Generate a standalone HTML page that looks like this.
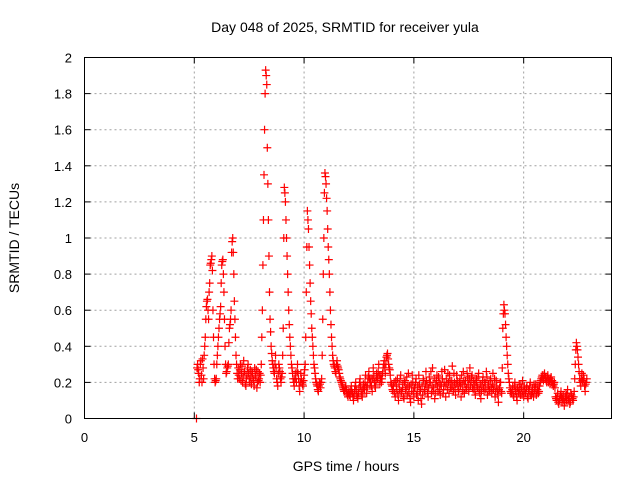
<!DOCTYPE html>
<html><head><meta charset="utf-8"><style>
body{margin:0;background:#fff;}
svg{display:block;font-family:"Liberation Sans",sans-serif;}
</style></head><body>
<svg id="c" width="640" height="480">
<text x="345" y="32" font-size="14" text-anchor="middle">Day 048 of 2025, SRMTID for receiver yula</text>
<text x="346" y="471" font-size="14" text-anchor="middle">GPS time / hours</text>
<text transform="translate(19,238) rotate(-90)" font-size="14" text-anchor="middle">SRMTID / TECUs</text>
<g id="grid"></g><g id="marks"></g>
<rect x="84.5" y="57.5" width="527" height="361" fill="none" stroke="#000" stroke-width="1"/>
</svg>
<script>
const xTicks=[0,5,10,15,20];
const yTicks=[0,0.2,0.4,0.6,0.8,1,1.2,1.4,1.6,1.8,2];
const yTickLabels=["0","0.2","0.4","0.6","0.8","1","1.2","1.4","1.6","1.8","2"];
const startHour=5.10;
const stepHour=0.05;
const srmtid=[0,
.30,.25,.22,.32,.20,.28,.35,.45,
.62,.66,.55,.75,.86,.90,.60,.30,
.20,.22,.35,.45,.55,.62,.85,.88,.70,.40,
.25,.28,.30,.50,.55,.92,1.00,.80,.55,.35,.25,
.28,.22,.30,.25,.20,.32,.26,.18,.24,.30,.22,.27,.19,.25,.21,.28,.23,.17,.26,.22,.20,
.30,.60,1.10,1.60,1.93,1.85,1.30,.90,.55,.40,.32,.28,
.25,.35,.22,.18,.30,.26,.20,.25,
.50,1.28,1.20,1.00,.80,.60,.45,.35,.28,.22,.18,
.25,.20,.30,.22,.15,.25,.20,.18,.24,.30,
.70,1.15,1.05,.85,.65,.50,.40,.30,.25,.20,.18,
.15,.20,.17,.22,.55,1.00,
1.36,1.30,1.15,.95,.80,.60,.45,.35,.30,.28,.25,.32,
.28,.25,.22,.20,.18,.16,.15,.18,.14,.12,
.15,.12,.18,.14,.10,.16,.20,.13,.11,.17,.22,.15,.12,.19,.16,.24,.14,.20,.26,.18,.22,.15,.28,.20,.17,.25,.22,.30,.19,.24,
.22,.28,.32,.25,.34,.36,.30,.27,.20,.18,
.15,.20,.12,.18,.22,.10,.16,.24,.14,.19,.11,.21,.17,.13,.25,.18,.09,.15,.20,.12,
.17,.22,.14,.10,.19,.16,.08,.13,.21,.15,.26,.18,.12,.23,.20,.14,.28,.17,.11,.19,
.24,.15,.20,.13,.18,.22,.16,.27,.12,.19,.25,.14,.21,.17,.29,.15,.20,.13,.24,.18,
.16,.22,.12,.19,.26,.14,.21,.17,.23,.15,.28,.20,.24,.16,.19,.13,.22,.17,.25,.14,
.11,.18,.23,.15,.20,.26,.13,.19,.16,.22,.14,.25,.18,.12,.21,.15,.09,.17,.20,.14,
.50,.63,.58,.45,.35,.25,.20,.15,
.14,.18,.12,.20,.16,.10,.15,.19,.13,.17,.21,.12,.16,.14,.18,.11,.15,.20,.13,.17,.12,.16,.19,.14,.18,.15,
.20,.22,.24,.21,.25,.23,.20,.24,.22,.19,.23,.21,.18,.20,
.12,.10,.14,.08,.11,.15,.09,.13,.07,.12,.10,.16,.11,.08,.14,.12,.10,.15,
.30,.42,.38,.30,.22,
.18,.25,.20,.22,.15,.20];
const srmtidB=[.28,
.27,.20,.30,.24,.33,.22,.40,.55,
.65,.60,.70,.85,.88,.82,.45,.22,
.21,.30,.40,.50,.58,.75,.87,.80,.55,.30,
.26,.29,.42,.52,.60,.98,.92,.65,.45,.30,.22,
.24,.27,.21,.29,.23,.26,.19,.22,.28,.25,.20,.23,.26,.22,.18,.24,.27,.20,.21,.25,.24,
.45,.85,1.35,1.80,1.90,1.50,1.10,.70,.48,.36,.30,.26,
.30,.28,.20,.25,.28,.22,.23,.35,
1.00,1.25,1.10,.90,.70,.52,.40,.30,.25,.20,.22,
.22,.26,.25,.18,.20,.22,.19,.21,.27,.45,
.95,1.10,.95,.75,.58,.45,.35,.28,.22,.19,.16,
.18,.19,.20,.35,.80,1.25,
1.34,1.22,1.05,.88,.70,.52,.40,.32,.29,.26,.30,.29,
.27,.23,.21,.19,.17,.15,.17,.16,.13,.14,
.13,.16,.15,.12,.13,.18,.16,.12,.14,.20,.18,.13,.16,.17,.20,.18,.17,.23,.22,.20,.18,.22,.24,.18,.21,.23,.26,.24,.22,.20,
.25,.30,.28,.30,.35,.33,.28,.24,.19,.16,
.18,.14,.21,.16,.13,.19,.22,.15,.17,.12,.20,.16,.23,.18,.14,.11,.19,.24,.15,.17,
.20,.13,.18,.24,.15,.11,.18,.22,.16,.19,.21,.14,.17,.20,.26,.18,.15,.22,.14,.21,
.18,.23,.16,.19,.26,.14,.20,.18,.22,.16,.20,.24,.17,.21,.18,.25,.16,.19,.21,.15,
.20,.18,.24,.15,.21,.19,.16,.25,.19,.22,.18,.23,.17,.21,.15,.20,.18,.23,.16,.19,
.15,.21,.17,.20,.16,.23,.18,.15,.21,.17,.19,.16,.22,.15,.18,.13,.16,.20,.15,.28,
.58,.60,.52,.40,.30,.22,.17,.14,
.16,.13,.18,.15,.12,.17,.14,.16,.19,.13,.15,.18,.14,.17,.12,.16,.18,.13,.15,.14,.19,.17,.13,.16,.14,.18,
.21,.23,.22,.24,.22,.21,.23,.20,.21,.22,.20,.19,.19,.17,
.11,.12,.09,.10,.13,.12,.11,.10,.09,.14,.13,.10,.12,.09,.13,.11,.12,.22,
.38,.40,.34,.26,.20,
.22,.21,.24,.18,.19,.22];
const NS="http://www.w3.org/2000/svg";
const X0=84.5,X1=611.5,Y0=418.5,Y1=57.5,XMAX=24,YMAX=2;
function xs(h){return X0+(X1-X0)*h/XMAX;}
function ys(v){return Y0-(Y0-Y1)*v/YMAX;}
const grid=document.getElementById('grid'),marks=document.getElementById('marks');
function mk(tag,attrs,parent){const e=document.createElementNS(NS,tag);for(const k in attrs)e.setAttribute(k,attrs[k]);parent.appendChild(e);return e;}
yTicks.forEach((v,i)=>{
  const y=ys(v);
  if(i>0&&i<yTicks.length-1){
    const g=mk('line',{x1:X0,x2:X1,y1:y,y2:y,stroke:'#a0a0a0','stroke-dasharray':'2,3'},grid);
    
    
  }
  mk('line',{x1:X0,x2:X0+6,y1:y,y2:y,stroke:'#000'},grid);
  mk('line',{x1:X1-6,x2:X1,y1:y,y2:y,stroke:'#000'},grid);
  const t=mk('text',{x:72,y:y+5,'font-size':13,'text-anchor':'end'},grid);
  t.textContent=yTickLabels[i];
  
  
});
xTicks.forEach((h,i)=>{
  const x=xs(h);
  if(i>0){
    const g=mk('line',{x1:x,x2:x,y1:Y0,y2:Y1,stroke:'#a0a0a0','stroke-dasharray':'2,3'},grid);
    
    
  }
  mk('line',{x1:x,x2:x,y1:Y0,y2:Y0-6,stroke:'#000'},grid);
  mk('line',{x1:x,x2:x,y1:Y1,y2:Y1+6,stroke:'#000'},grid);
  const t=mk('text',{x:x,y:442,'font-size':13,'text-anchor':'middle'},grid);
  t.textContent=String(h);
  
  
});
function plotSeries(vals,t0){
  vals.forEach((v,i)=>{
    const x=xs(t0+i*stepHour),y=ys(v);
    const p=mk('path',{d:`M${x-4},${y}H${x+4}M${x},${y-4}V${y+4}`,stroke:'#ff0000','stroke-width':1.2,fill:'none'},marks);
    
    
  });
}
plotSeries(srmtid,startHour);
plotSeries(srmtidB,startHour+stepHour/2);
</script>
</body></html>
